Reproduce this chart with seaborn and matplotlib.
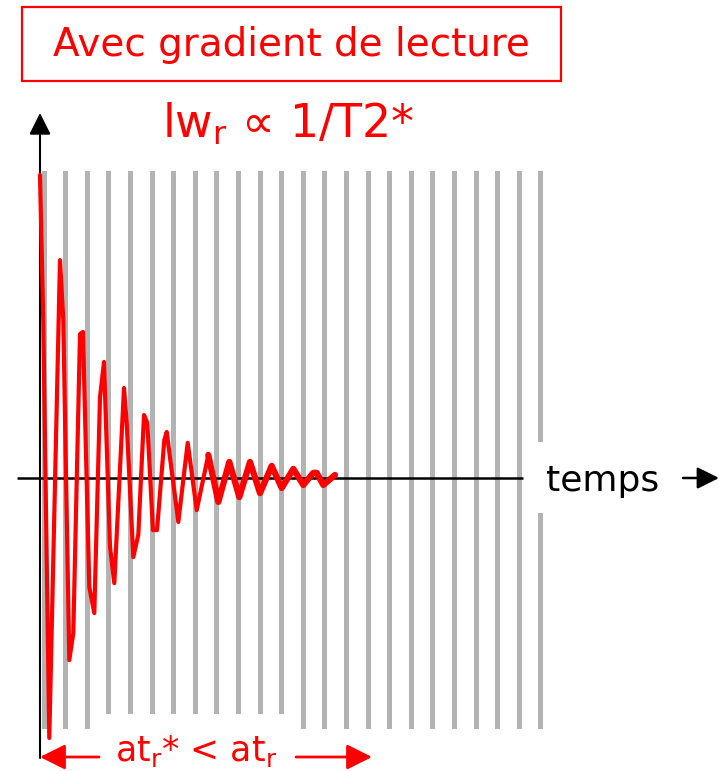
import matplotlib
matplotlib.use("Agg")
import matplotlib.pyplot as plt
import matplotlib.patches as mpatches
import numpy as np
import pandas as pd
import seaborn as sns

# ---------------- data ----------------
# damped FID signal (time in stripe-spacing units, amplitude normalised)
signal_t = [0.0, 0.153, 0.43, 0.926, 1.079, 1.356, 1.542, 1.852, 1.99, 2.282,
            2.514, 2.778, 2.963, 3.241, 3.44, 3.889, 4.014, 4.319, 4.551, 4.815,
            4.968, 5.23, 5.417, 5.755, 5.866, 6.403, 6.838, 7.255, 7.792, 8.255,
            8.764, 9.227, 9.722, 10.185, 10.727, 11.19, 11.727, 12.19, 12.653,
            12.81, 13.116, 13.657]
signal_a = [1.0, 0.512, -0.858, 0.719, 0.521, -0.601, -0.512, 0.475, 0.482, -0.36,
            -0.446, 0.267, 0.383, -0.228, -0.347, 0.297, 0.182, -0.261, -0.188, 0.208,
            0.182, -0.172, -0.172, 0.125, 0.152, -0.145, 0.116, -0.106, 0.076, -0.079,
            0.053, -0.063, 0.053, -0.05, 0.04, -0.033, 0.03, -0.023, 0.017,
            0.017, -0.023, 0.01]
# readout sampling stripes
stripe_t = [0.19, 1.19, 2.19, 3.19, 4.19, 5.19, 6.19, 7.19, 8.19, 9.19, 10.19, 11.19,
            12.19, 13.19, 14.19, 15.19, 16.19, 17.19, 18.19, 19.19, 20.19, 21.19,
            22.19, 23.19]
stripe_top = [1.013] * 24
stripe_bottom = [-0.83, -0.83, -0.83, -0.78, -0.78, -0.78, -0.78, -0.78, -0.78,
                 -0.78, -0.78, -0.78, -0.83, -0.83, -0.83, -0.83, -0.83, -0.83,
                 -0.83, -0.83, -0.83, -0.83, -0.83, -0.83]
gap_index = 23
gap_low, gap_high = -0.116, 0.12

title_text = "Avec gradient de lecture"
formula_text = r"lw$_\mathregular{r}$ ∝ 1/T2*"
axis_label = "temps"
bottom_text = r"at$_\mathregular{r}$* < at$_\mathregular{r}$"

RED = "#ff0000"
GREY = "#b3b3b3"

# ---------------- figure ----------------
sns.set_theme(style="white")
plt.rcParams["font.family"] = ["DejaVu Sans"]

W, H = 719, 771
fig = plt.figure(figsize=(W / 100, H / 100), dpi=100)
ax = fig.add_axes([0, 0, 1, 1])
ax.set_axis_off()

X0, SX = 40.0, 21.6      # pixel of t=0, pixels per time unit
Y0, SY = 478.0, 303.0    # pixel of a=0, pixels per amplitude unit

def px(x):
    return (x - X0) / SX

def py(y):
    return (Y0 - y) / SY

# stripes
heights = [t - b for t, b in zip(stripe_top, stripe_bottom)]
ax.bar(stripe_t, heights, bottom=stripe_bottom, width=0.24, color=GREY,
       linewidth=0, zorder=1)
ax.bar([stripe_t[gap_index]], [gap_high - gap_low], bottom=[gap_low], width=0.4,
       color="white", linewidth=0, zorder=1.5)

# axes
ax.plot([px(17), px(523)], [0, 0], color="black", lw=1.8, zorder=2,
        solid_capstyle="butt")
ax.annotate("", xy=(0, py(113)), xytext=(0, py(758)),
            arrowprops=dict(arrowstyle="-|>,head_length=0.6,head_width=0.3",
                            color="black", lw=1.5,
                            mutation_scale=22, shrinkA=0, shrinkB=0), zorder=2)
ax.annotate("", xy=(px(719), 0), xytext=(px(683), 0),
            arrowprops=dict(arrowstyle="-|>,head_length=0.6,head_width=0.3",
                            color="black", lw=1.8,
                            mutation_scale=22, shrinkA=0, shrinkB=0))
ax.text(px(603), py(481), axis_label, color="black", fontsize=26,
        ha="center", va="center")

# signal
sig = pd.DataFrame({"t": signal_t, "a": signal_a})
sns.lineplot(data=sig, x="t", y="a", sort=False, estimator=None, color=RED,
             lw=3.0, ax=ax, zorder=3)
tail = sig.iloc[28:]
sns.lineplot(data=tail, x="t", y="a", sort=False, estimator=None, color=RED,
             lw=4.5, ax=ax, zorder=3)
ax.set_xlim((0 - X0) / SX, (W - X0) / SX)
ax.set_ylim((Y0 - H) / SY, Y0 / SY)
ax.set_axis_off()

# title box
rect = mpatches.Rectangle((22 / W, 1 - 81 / H), 539 / W, 74 / H,
                          transform=fig.transFigure, fill=False,
                          edgecolor=RED, lw=1.6)
fig.patches.append(rect)
fig.text(291 / W, 1 - 45 / H, title_text, color=RED, fontsize=28,
         ha="center", va="center")

# formula
ax.text(px(288), py(124), formula_text, color=RED, fontsize=33,
        ha="center", va="center")

# bottom annotation
ax.annotate("", xy=(0.0, py(757)), xytext=(px(99), py(757)),
            arrowprops=dict(arrowstyle="-|>,head_length=0.7,head_width=0.35",
                            color=RED, lw=2,
                            mutation_scale=22, shrinkA=0, shrinkB=0))
ax.annotate("", xy=(px(372), py(757)), xytext=(px(296), py(757)),
            arrowprops=dict(arrowstyle="-|>,head_length=0.7,head_width=0.35",
                            color=RED, lw=2,
                            mutation_scale=22, shrinkA=0, shrinkB=0))
ax.text(px(196), py(751), bottom_text, color=RED, fontsize=25,
        ha="center", va="center")

fig.savefig("out.png", dpi=100)
